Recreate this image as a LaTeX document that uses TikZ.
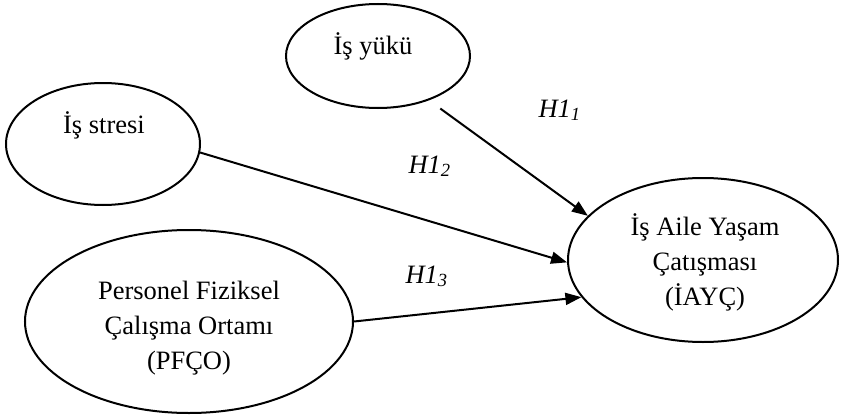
\documentclass[tikz,border=0pt]{standalone}
\usepackage{fontspec}
\setmainfont{Liberation Serif}
\usetikzlibrary{arrows.meta}
\usetikzlibrary{shapes.geometric}

\begin{document}
\begin{tikzpicture}[x=1pt,y=-1pt,>={Triangle[length=16pt,width=12pt]},
    kutu/.style={ellipse,draw,line width=2pt,inner sep=0pt},
    yazi/.style={font=\fontsize{26.5}{35}\selectfont,align=center},
    hip/.style={font=\fontsize{26.5}{30}\selectfont\itshape,anchor=base west}]
    \useasboundingbox (0,0) rectangle (841,415);
    % ellipses
    \node[kutu,minimum width=184pt,minimum height=104pt] (yuk) at (378,56) {};
    \node[kutu,minimum width=194pt,minimum height=122pt] (stres) at (103,144) {};
    \node[kutu,minimum width=328pt,minimum height=183pt] (pfco) at (189,321.5) {};
    \node[kutu,minimum width=270pt,minimum height=164pt] (iayc) at (703,260) {};
    % texts
    \node[yazi,anchor=base] (yuk-t) at (373,54) {İş yükü};
    \node[yazi,anchor=base] (stres-t) at (104,133) {İş stresi};
    \node[yazi] (pfco-t) at (189,328) {Personel Fiziksel\\Çalışma Ortamı\\(PFÇO)};
    \node[yazi] (iayc-t) at (705,262) {İş Aile Yaşam\\Çatışması\\(İAYÇ)};
    \node[hip] (h1) at (535,117) {H1\textsubscript{1}};
    \node[hip] (h2) at (405,173) {H1\textsubscript{2}};
    \node[hip] (h3) at (402,283) {H1\textsubscript{3}};
    \path[->,line width=2pt]
          (yuk.-41) edge[shorten <=14pt] (iayc.159)
          (stres.-5) edge (iayc.181)
          (pfco.east) edge (iayc.197);
\end{tikzpicture}
\end{document}
